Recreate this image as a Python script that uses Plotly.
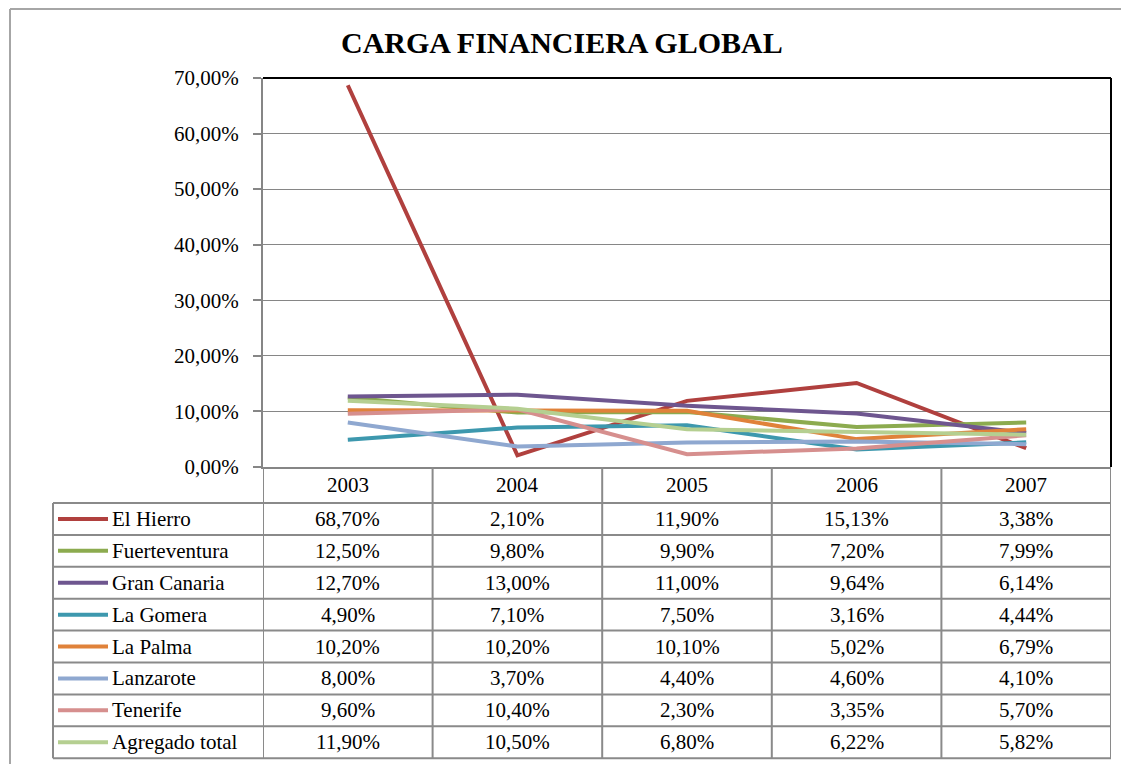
import plotly.graph_objects as go

W, H = 1121, 764

years = ["2003", "2004", "2005", "2006", "2007"]
islands = ["El Hierro", "Fuerteventura", "Gran Canaria", "La Gomera",
           "La Palma", "Lanzarote", "Tenerife", "Agregado total"]

el_hierro = [68.70, 2.10, 11.90, 15.13, 3.38]
fuerteventura = [12.50, 9.80, 9.90, 7.20, 7.99]
gran_canaria = [12.70, 13.00, 11.00, 9.64, 6.14]
la_gomera = [4.90, 7.10, 7.50, 3.16, 4.44]
la_palma = [10.20, 10.20, 10.10, 5.02, 6.79]
lanzarote = [8.00, 3.70, 4.40, 4.60, 4.10]
tenerife = [9.60, 10.40, 2.30, 3.35, 5.70]
agregado_total = [11.90, 10.50, 6.80, 6.22, 5.82]

series = [el_hierro, fuerteventura, gran_canaria, la_gomera,
          la_palma, lanzarote, tenerife, agregado_total]
colors = ["#B0403E", "#8CAB4F", "#6E568F", "#3D98AE",
          "#E0823A", "#8FA8D0", "#D68F8E", "#B5CF91"]

FONT = "Liberation Serif"
GRID = "#868686"
TABLE = "#8a8a8a"
TXT = {"family": FONT, "size": 21, "color": "black"}


def px(x):
    return x / W


def py(y):
    return 1 - y / H


def pct(v):
    return f"{v:.2f}".replace(".", ",") + "%"


xpos = list(range(len(years)))

fig = go.Figure()
for name, vals, col in zip(islands, series, colors):
    fig.add_trace(go.Scatter(
        x=xpos, y=[v / 100 for v in vals], name=name, mode="lines",
        line={"color": col, "width": 4}, showlegend=False,
    ))

# table geometry
x_left, x_plot, x_right = 53, 263, 1111
y_top, y_axis_bottom, y_head = 78, 467, 503
row_h = 31.9
row_edges = [y_head + i * row_h for i in range(len(islands) + 1)]
col_edges = [i - 0.5 for i in range(len(years) + 1)]

shapes = []
annotations = []

# outer chart border (left and top only visible)
shapes.append(dict(type="line", xref="paper", yref="paper",
                   x0=px(10), x1=1.02, y0=py(9), y1=py(9),
                   line={"color": "#a6a6a6", "width": 2}))
shapes.append(dict(type="line", xref="paper", yref="paper",
                   x0=px(10), x1=px(10), y0=py(9), y1=-0.02,
                   line={"color": "#a6a6a6", "width": 2}))

# plot area top and right borders
shapes.append(dict(type="line", xref="paper", yref="paper",
                   x0=px(x_plot), x1=px(x_right), y0=py(y_top), y1=py(y_top),
                   line={"color": "black", "width": 2}))
shapes.append(dict(type="line", xref="paper", yref="paper",
                   x0=px(x_right), x1=px(x_right), y0=py(y_top), y1=py(y_axis_bottom),
                   line={"color": "black", "width": 2}))

# table horizontal lines
for ye in row_edges:
    shapes.append(dict(type="line", xref="paper", yref="paper",
                       x0=px(x_left), x1=px(x_right), y0=py(ye), y1=py(ye),
                       line={"color": TABLE, "width": 2}))
# table vertical lines
for ce in col_edges:
    shapes.append(dict(type="line", xref="x", yref="paper",
                       x0=ce, x1=ce, y0=py(y_axis_bottom), y1=py(row_edges[-1]),
                       line={"color": TABLE, "width": 2}))
shapes.append(dict(type="line", xref="paper", yref="paper",
                   x0=px(x_left), x1=px(x_left), y0=py(y_head), y1=py(row_edges[-1]),
                   line={"color": TABLE, "width": 2}))

# header years
for xi, yr in zip(xpos, years):
    annotations.append(dict(x=xi, xref="x", y=py((y_axis_bottom + y_head) / 2),
                            yref="paper", text=yr, showarrow=False,
                            xanchor="center", yanchor="middle", font=TXT))

# rows
for i, (name, vals, col) in enumerate(zip(islands, series, colors)):
    yc = py((row_edges[i] + row_edges[i + 1]) / 2)
    shapes.append(dict(type="line", xref="paper", yref="paper",
                       x0=px(58), x1=px(108), y0=yc, y1=yc,
                       line={"color": col, "width": 4}))
    annotations.append(dict(x=px(110), xref="paper", y=yc, yref="paper",
                            text=name, showarrow=False, xanchor="left",
                            yanchor="middle", font=TXT))
    for xi, v in zip(xpos, vals):
        annotations.append(dict(x=xi, xref="x", y=yc, yref="paper",
                                text=pct(v), showarrow=False,
                                xanchor="center", yanchor="middle", font=TXT))

# title
annotations.append(dict(x=px(562), xref="paper", y=py(42), yref="paper",
                        text="<b>CARGA FINANCIERA GLOBAL</b>", showarrow=False,
                        xanchor="center", yanchor="middle",
                        font={"family": FONT, "size": 30, "color": "black"}))

fig.update_layout(
    width=W, height=H,
    margin={"l": 0, "r": 0, "t": 0, "b": 0},
    paper_bgcolor="white", plot_bgcolor="white",
    separators=",.",
    font=TXT,
    xaxis={
        "domain": [px(x_plot), px(x_right)],
        "range": [-0.5, 4.5], "showticklabels": False, "showgrid": False,
        "showline": True, "linecolor": GRID, "linewidth": 2,
        "zeroline": False, "ticks": "",
    },
    yaxis={
        "domain": [py(y_axis_bottom), py(y_top)], "range": [0, 0.70],
        "dtick": 0.10, "tickformat": ".2%",
        "showgrid": True, "gridcolor": GRID, "gridwidth": 1.3,
        "showline": True, "linecolor": GRID, "linewidth": 2,
        "ticks": "outside", "ticklen": 8, "tickcolor": GRID, "tickwidth": 2,
        "ticklabelstandoff": 10,
        "zeroline": False, "automargin": False,
        "tickfont": TXT,
    },
    shapes=shapes,
    annotations=annotations,
)

# the page body has a default 8px margin; remove it so pixels line up
fig.write_html("out.html", config={"displayModeBar": False},
               post_script="document.body.style.margin='0px';")
